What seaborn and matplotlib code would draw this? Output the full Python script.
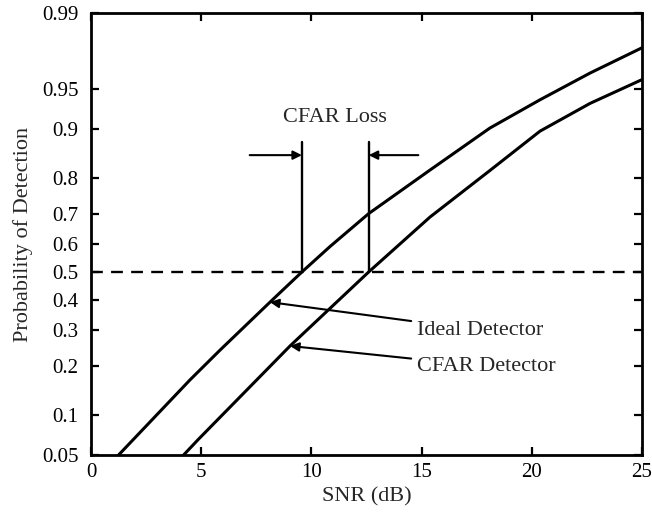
import numpy as np
import pandas as pd
import matplotlib
matplotlib.use("Agg")
import matplotlib.pyplot as plt
from matplotlib.ticker import FixedLocator, FixedFormatter, NullLocator
from statistics import NormalDist
import seaborn as sns

# values (SNR in dB, probability of detection)
ideal_snr = [1.25, 4.49, 5.85, 8.12, 9.57, 10.84, 12.6, 15.38, 18.1, 20.37, 22.64, 25.0]
ideal_pd = [0.05, 0.166, 0.241, 0.393, 0.5, 0.59, 0.70, 0.82, 0.902, 0.939, 0.963, 0.978]
cfar_snr = [4.2, 4.86, 9.03, 12.6, 15.38, 18.1, 20.37, 22.64, 25.0]
cfar_pd = [0.05, 0.066, 0.253, 0.5, 0.689, 0.819, 0.897, 0.935, 0.958]

x_ticks = [0, 5, 10, 15, 20, 25]
y_ticks = [0.05, 0.1, 0.2, 0.3, 0.4, 0.5, 0.6, 0.7, 0.8, 0.9, 0.95, 0.99]
y_labels = ["0.05", "0.1", "0.2", "0.3", "0.4", "0.5", "0.6", "0.7", "0.8", "0.9", "0.95", "0.99"]

df = pd.concat([
    pd.DataFrame({"snr": ideal_snr, "pd": ideal_pd, "det": "Ideal"}),
    pd.DataFrame({"snr": cfar_snr, "pd": cfar_pd, "det": "CFAR"}),
])

sns.set_style("ticks")
plt.rcParams["font.family"] = ["Liberation Serif", "DejaVu Serif"]
plt.rcParams["font.size"] = 16

nd = NormalDist()
_ppf = np.vectorize(lambda p: nd.inv_cdf(min(max(p, 1e-9), 1 - 1e-9)), otypes=[float])
_cdf = np.vectorize(nd.cdf, otypes=[float])


def probit(p):
    return _ppf(np.asarray(p, dtype=float))


def inv_probit(z):
    return _cdf(np.asarray(z, dtype=float))


fig = plt.figure(figsize=(6.52, 5.12), dpi=100)
ax = fig.add_axes([0.1396, 0.1113, 0.8451, 0.8633])
ax.set_yscale("function", functions=(probit, inv_probit))

sns.lineplot(data=df, x="snr", y="pd", units="det", estimator=None,
             color="black", lw=2.2, ax=ax, legend=False)

ax.axhline(0.5, color="black", lw=1.7, ls=(0, (5, 3.5)))

# CFAR loss markers
arrow = dict(arrowstyle="-|>", color="black", lw=1.5, mutation_scale=13)
for xv in [9.57, 12.6]:
    ax.plot([xv, xv], [0.5, 0.878], color="black", lw=1.7)
ax.annotate("", xy=(9.57, 0.853), xytext=(7.2, 0.853),
            arrowprops=dict(arrow, shrinkA=0, shrinkB=0))
ax.annotate("", xy=(12.6, 0.853), xytext=(14.85, 0.853),
            arrowprops=dict(arrow, shrinkA=0, shrinkB=0))
ax.text(11.05, 0.918, "CFAR Loss", ha="center", va="center", fontsize=16)

ax.annotate("Ideal Detector", xy=(8.12, 0.393), xytext=(14.8, 0.30),
            ha="left", va="center", fontsize=16,
            arrowprops=dict(arrow, shrinkA=2, shrinkB=0))
ax.annotate("CFAR Detector", xy=(9.03, 0.253), xytext=(14.8, 0.198),
            ha="left", va="center", fontsize=16,
            arrowprops=dict(arrow, shrinkA=2, shrinkB=0))

ax.set_xlim(0, 25)
ax.set_ylim(0.05, 0.99)
ax.xaxis.set_major_locator(FixedLocator(x_ticks))
ax.yaxis.set_major_locator(FixedLocator(y_ticks))
ax.yaxis.set_major_formatter(FixedFormatter(y_labels))
ax.yaxis.set_minor_locator(NullLocator())
ax.xaxis.set_minor_locator(NullLocator())
ax.tick_params(direction="in", length=6, width=1.6, top=True, right=True,
               labelsize=15, colors="black")
ax.tick_params(axis="y", pad=9)
ax.tick_params(axis="x", pad=6)
for s in ax.spines.values():
    s.set_linewidth(2)
    s.set_color("black")

ax.set_xlabel("SNR (dB)", fontsize=16)
ax.set_ylabel("Probability of Detection", fontsize=16)
ax.xaxis.set_label_coords(0.5, -0.072)
ax.yaxis.set_label_coords(-0.105, 0.5)

fig.savefig("out.png", dpi=100)
